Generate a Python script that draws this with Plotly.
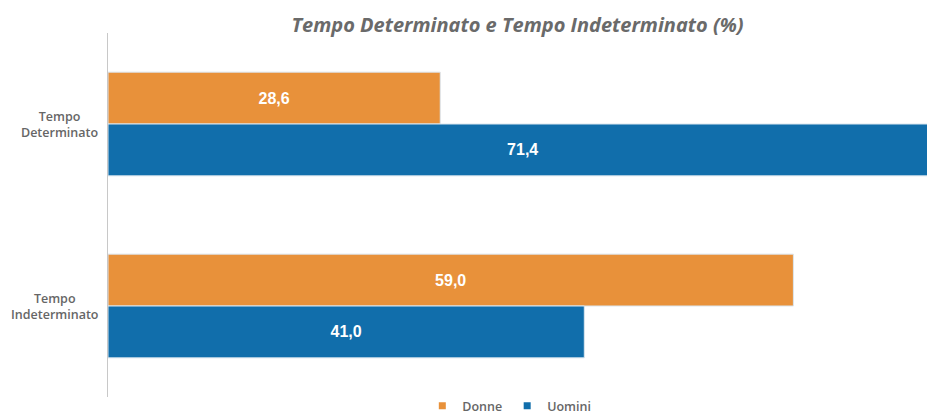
import plotly.graph_objects as go

# Contract type breakdown by gender (%)
categories = ["Tempo Determinato", "Tempo Indeterminato"]
category_labels = ["Tempo<br>Determinato", "Tempo<br>Indeterminato"]
donne = [28.6, 59.0]
uomini = [71.4, 41.0]

ORANGE = "#E8913A"
BLUE = "#116EAB"


def fmt(v):
    return f"{v:.1f}".replace(".", ",")


fig = go.Figure()
for name, vals, color in [("Donne", donne, ORANGE), ("Uomini", uomini, BLUE)]:
    fig.add_trace(go.Bar(
        name=name,
        y=categories,
        x=vals,
        orientation="h",
        marker=dict(color=color, line=dict(color="#dbe6ef", width=1)),
        text=[fmt(v) for v in vals],
        textposition="inside",
        insidetextanchor="middle",
        textangle=0,
        textfont=dict(family="Liberation Sans, Arial", size=16, color="white", weight="bold"),
        showlegend=False,
    ))

# compact square legend keys
for name, color in [("Donne", ORANGE), ("Uomini", BLUE)]:
    fig.add_trace(go.Scatter(
        x=[None], y=[None], mode="markers", name=name,
        marker=dict(symbol="square", size=7, color=color),
        showlegend=True,
    ))

# two-line category labels, lines centred within each block
for cat, lab in zip(categories, category_labels):
    fig.add_annotation(
        x=-0.0095, xref="paper", y=cat, yref="y",
        text=lab, showarrow=False, align="center",
        xanchor="right", yanchor="middle",
        font=dict(family="Open Sans", size=12.5, color="#666666", weight=600),
    )

fig.update_layout(
    width=927,
    height=416,
    barmode="group",
    bargap=0.43,
    bargroupgap=0.0,
    plot_bgcolor="white",
    paper_bgcolor="white",
    margin=dict(l=108, r=0, t=33, b=19, autoexpand=False),
    separators=",.",
    title=dict(
        text="<i>Tempo Determinato e Tempo Indeterminato (%)</i>",
        x=0.5,
        xref="paper",
        xanchor="center",
        y=0.94,
        yref="container",
        yanchor="middle",
        font=dict(family="Open Sans", size=20, color="#6a6a6a", weight="bold"),
    ),
    xaxis=dict(
        range=[0, 70.5],
        showgrid=False,
        zeroline=False,
        showticklabels=False,
        showline=False,
        fixedrange=True,
    ),
    yaxis=dict(
        autorange="reversed",
        showgrid=False,
        showline=True,
        linecolor="#c8c8c8",
        linewidth=1,
        ticks="",
        showticklabels=False,
    ),
    legend=dict(
        orientation="h",
        x=0.49,
        xanchor="center",
        xref="paper",
        y=0.024,
        yanchor="middle",
        yref="container",
        font=dict(family="Open Sans", size=12.5, color="#666666", weight=600),
        itemwidth=30,
        tracegroupgap=0,
        traceorder="normal",
    ),
    showlegend=True,
)

fig.write_html("out.html")
